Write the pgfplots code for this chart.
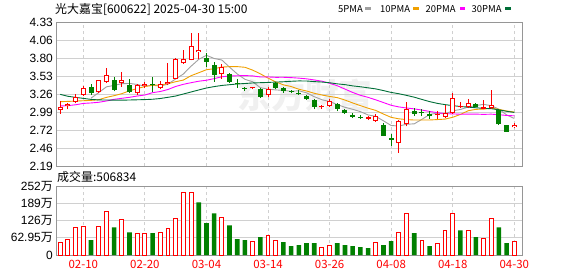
\documentclass[border=0pt]{standalone}
\usepackage{fontspec}
\setmainfont{Liberation Sans}
\newfontfamily\cjk{Noto Sans CJK SC}
\usepackage{pgfplots}
\pgfplotsset{compat=1.18}
\usepackage{pgfplotstable}

\definecolor{upred}{RGB}{255,0,0}
\definecolor{dngreen}{RGB}{0,128,0}
\definecolor{mafive}{RGB}{160,160,160}
\definecolor{maten}{RGB}{240,160,0}
\definecolor{matwenty}{RGB}{255,0,255}
\definecolor{mathirty}{RGB}{0,110,55}
\definecolor{gridc}{RGB}{208,208,208}
\definecolor{framec}{RGB}{150,150,150}

% candles: index open high low close
\pgfplotstableread{
i o h l c
0 3.02 3.16 2.97 3.06
1 3.08 3.13 3.03 3.11
2 3.145 3.26 3.12 3.21
3 3.25 3.38 3.23 3.345
5 3.285 3.47 3.27 3.465
6 3.44 3.64 3.42 3.54
8 3.42 3.58 3.37 3.47
10 3.27 3.41 3.25 3.39
11 3.38 3.44 3.345 3.41
13 3.35 3.45 3.33 3.405
14 3.41 3.72 3.39 3.44
15 3.49 3.79 3.48 3.775
16 3.715 3.91 3.71 3.775
17 3.77 4.17 3.76 3.97
18 3.88 4.17 3.78 3.915
21 3.55 3.70 3.49 3.66
25 3.345 3.37 3.33 3.36
27 3.245 3.37 3.21 3.33
34 3.06 3.10 3.04 3.075
35 3.08 3.18 3.07 3.155
40 2.895 2.93 2.87 2.91
41 2.86 2.97 2.85 2.93
44 2.53 2.875 2.39 2.86
45 2.81 3.14 2.78 3.04
49 2.945 3.00 2.89 2.96
50 2.92 3.10 2.90 2.98
51 2.975 3.27 2.96 3.195
52 3.06 3.14 3.05 3.075
53 3.06 3.19 3.05 3.12
56 3.05 3.32 3.04 3.10
59 2.765 2.825 2.75 2.80
}\upk

\pgfplotstableread{
i o h l c
55 3.04 3.17 3.03 3.07
}\upfk

\pgfplotstableread{
i o h l c
4 3.37 3.41 3.245 3.27
7 3.47 3.51 3.30 3.32
9 3.39 3.49 3.27 3.29
12 3.405 3.51 3.295 3.39
19 3.80 3.865 3.665 3.74
20 3.69 3.74 3.44 3.54
22 3.555 3.57 3.43 3.44
23 3.43 3.48 3.35 3.41
24 3.355 3.37 3.31 3.34
26 3.33 3.345 3.20 3.22
28 3.42 3.44 3.33 3.355
29 3.355 3.37 3.28 3.305
30 3.305 3.32 3.27 3.29
31 3.28 3.32 3.245 3.26
32 3.235 3.25 3.17 3.18
33 3.17 3.19 3.03 3.07
36 3.105 3.13 3.00 3.035
37 3.02 3.04 2.96 2.975
38 2.955 2.98 2.90 2.925
39 2.925 2.95 2.89 2.90
42 2.80 2.825 2.635 2.64
43 2.60 2.66 2.49 2.58
46 3.005 3.05 2.94 2.965
47 2.99 3.03 2.93 2.975
48 2.96 3.00 2.89 2.94
54 3.11 3.12 3.06 3.07
57 3.02 3.04 2.80 2.81
58 2.80 2.805 2.70 2.70
}\dnk

\pgfplotstableread{
i v
4 3.199
5 3.28
6 3.366
7 3.388
8 3.413
9 3.417
10 3.402
11 3.376
12 3.39
13 3.377
14 3.407
15 3.484
16 3.557
17 3.673
18 3.775
19 3.835
20 3.788
21 3.765
22 3.659
23 3.558
24 3.478
25 3.442
26 3.354
27 3.332
28 3.321
29 3.314
30 3.30
31 3.308
32 3.278
33 3.221
34 3.175
35 3.148
36 3.103
37 3.062
38 3.033
39 2.998
40 2.949
41 2.928
42 2.861
43 2.792
44 2.784
45 2.81
46 2.817
47 2.884
48 2.956
49 2.976
50 2.964
51 3.01
52 3.03
53 3.066
54 3.088
55 3.106
56 3.087
57 3.034
58 2.95
59 2.896
}\mafivet

\pgfplotstableread{
i v
0 3.146
1 3.15
2 3.155
3 3.16
4 3.165
5 3.175
6 3.21
7 3.235
8 3.265
9 3.308
10 3.341
11 3.371
12 3.389
13 3.395
14 3.412
15 3.443
16 3.467
17 3.532
18 3.576
19 3.621
20 3.636
21 3.661
22 3.666
23 3.667
24 3.657
25 3.615
26 3.560
27 3.496
28 3.440
29 3.396
30 3.371
31 3.331
32 3.305
33 3.271
34 3.245
35 3.224
36 3.206
37 3.170
38 3.127
39 3.087
40 3.049
41 3.016
42 2.962
43 2.913
44 2.891
45 2.880
46 2.873
47 2.873
48 2.874
49 2.880
50 2.887
51 2.914
52 2.957
53 3.011
54 3.032
55 3.035
56 3.049
57 3.032
58 3.008
59 2.992
}\matent

\pgfplotstableread{
i v
0 3.082
1 3.087
2 3.10
3 3.12
4 3.127
5 3.137
6 3.156
7 3.181
8 3.196
9 3.211
10 3.23
11 3.245
12 3.28
13 3.297
14 3.327
15 3.372
16 3.404
17 3.428
18 3.45
19 3.4645
20 3.4885
21 3.516
22 3.5275
23 3.531
24 3.534
25 3.529
26 3.513
27 3.5135
28 3.508
29 3.5085
30 3.5035
31 3.496
32 3.4855
33 3.469
34 3.4505
35 3.4195
36 3.3825
37 3.333
38 3.283
39 3.241
40 3.210
41 3.173
42 3.133
43 3.092
44 3.068
45 3.052
46 3.039
47 3.021
48 3.0005
49 2.983
50 2.968
51 2.9645
52 2.959
53 2.962
54 2.9615
55 2.957
56 2.9605
57 2.952
58 2.941
59 2.936
}\matwentyt

\pgfplotstableread{
i v
0 3.255
1 3.226
2 3.21
3 3.195
4 3.18
5 3.172
6 3.171
7 3.168
8 3.168
9 3.171
10 3.174
11 3.177
12 3.182
13 3.193
14 3.211
15 3.23
16 3.26
17 3.29
18 3.32
19 3.349
20 3.37
21 3.387
22 3.398
23 3.409
24 3.416
25 3.424
26 3.428
27 3.432
28 3.437
29 3.4417
30 3.4493
31 3.4543
32 3.4533
33 3.4442
34 3.4377
35 3.4273
36 3.4105
37 3.399
38 3.3808
39 3.3678
40 3.3518
41 3.3358
42 3.3108
43 3.2833
44 3.264
45 3.2395
46 3.2125
47 3.1793
48 3.1468
49 3.1208
50 3.1022
51 3.0867
52 3.0745
53 3.0648
54 3.0558
55 3.0462
56 3.0422
57 3.0248
58 3.003
59 2.9862
}\mathirtyt

% volume (10k shares)
\pgfplotstableread{
i v
0 47
1 56.7
2 100
3 104
5 104
6 158
8 129
10 80
11 80
13 83
14 96.5
15 133
16 227
17 230
21 136
25 50.6
27 71
28 53
34 28
35 35
41 47
44 83
45 152
47 53
49 43
50 89
51 152
53 89
55 60
56 133
59 50.68
}\volup

\pgfplotstableread{
i v
4 54
7 101
9 83
12 80
18 192
19 116
20 152
22 108.5
23 58
24 54
26 65
29 47
30 32.6
31 36
32 43
33 43
36 43
37 36
38 32.6
39 29
40 25
42 36
43 50.6
46 80
48 32.6
52 90
54 65
57 101
58 43
}\voldn

\pgfplotsset{
  kaxis/.style={
    scale only axis, width=466bp,
    xmin=-0.55, xmax=60,
    axis line style={draw=framec, line width=0.9bp},
    major tick length=0pt,
    xtick={3,11,19,27,35,43,51,59},
    xmajorgrids, ymajorgrids,
    x grid style={gridc, dash pattern=on 3bp off 3bp, line width=0.9bp},
    y grid style={gridc, line width=0.9bp},
    tick label style={font=\fontsize{12}{14}\selectfont, inner sep=0pt},
    yticklabel style={xshift=-3bp},
  },
  wick/.style={draw=none, mark=none, forget plot,
    error bars/.cd, y dir=plus, y explicit, error mark=none,
    error bar style={draw=#1, line width=1bp}},
  body/.style 2 args={draw=none, mark=none, forget plot,
    error bars/.cd, y dir=plus, y explicit, error mark=none,
    error bar style={draw=#1, line width=#2}},
}

\begin{document}
\begin{tikzpicture}
\path[use as bounding box] (0,0) rectangle (578bp,-276bp);

% watermark
\node[text=black!6, font=\cjk\bfseries\fontsize{34}{36}\selectfont] at (305bp,-95bp) {东方财富};

% title and legend
\node[anchor=west, inner sep=0pt] at (55bp,-9bp) {\cjk\fontsize{12}{14}\selectfont 光大嘉宝[600622] 2025-04-30 15:00};
\node[anchor=west, inner sep=0pt] at (338bp,-8.8bp) {\cjk\fontsize{9.5}{11}\selectfont 5PMA};
\fill[mafive] (365bp,-7.3bp) rectangle (371bp,-10.3bp);
\node[anchor=west, inner sep=0pt] at (380bp,-8.8bp) {\cjk\fontsize{9.5}{11}\selectfont 10PMA};
\fill[maten] (413bp,-7.3bp) rectangle (419bp,-10.3bp);
\node[anchor=west, inner sep=0pt] at (425.5bp,-8.8bp) {\cjk\fontsize{9.5}{11}\selectfont 20PMA};
\fill[matwenty] (459.5bp,-7.3bp) rectangle (465bp,-10.3bp);
\node[anchor=west, inner sep=0pt] at (471.5bp,-8.8bp) {\cjk\fontsize{9.5}{11}\selectfont 30PMA};
\fill[mathirty] (505bp,-7.3bp) rectangle (511bp,-10.3bp);

\node[anchor=west, inner sep=0pt] at (57bp,-177bp) {\cjk\fontsize{12}{14}\selectfont 成交量:506834};

% price axis
\begin{axis}[kaxis,
  at={(56bp,-166bp)}, anchor=south west, height=144bp,
  ymin=2.19, ymax=4.33,
  ytick={2.19,2.4575,2.725,2.9925,3.26,3.5275,3.795,4.0625,4.33},
  yticklabels={2.19,2.46,2.72,2.99,3.26,3.53,3.80,4.06,4.33},
  xticklabel=\empty,
]
\addplot[mafive, line width=0.9bp, mark=none] table[x=i,y=v] {\mafivet};
\addplot[maten, line width=0.9bp, mark=none] table[x=i,y=v] {\matent};
\addplot[matwenty, line width=0.9bp, mark=none] table[x=i,y=v] {\matwentyt};
\addplot[mathirty, line width=0.9bp, mark=none] table[x=i,y=v] {\mathirtyt};

% down candles
\addplot[wick=dngreen] table[x=i, y=l, y error expr=\thisrow{h}-\thisrow{l}] {\dnk};
\addplot[body={dngreen}{5bp}] table[x=i, y=c, y error expr={max(\thisrow{o}-\thisrow{c},0.016)}] {\dnk};
% up candles (hollow)
\addplot[wick=upred] table[x=i, y=l, y error expr=\thisrow{h}-\thisrow{l}] {\upk};
\addplot[body={upred}{5bp}] table[x=i, y=o, y error expr={max(\thisrow{c}-\thisrow{o},0.016)}] {\upk};
\addplot[body={white}{3bp}] table[x=i, y expr=\thisrow{o}+0.0149, y error expr={max(\thisrow{c}-\thisrow{o}-0.0298,0)}] {\upk};
% up candle (filled)
\addplot[wick=upred] table[x=i, y=l, y error expr=\thisrow{h}-\thisrow{l}] {\upfk};
\addplot[body={upred}{5bp}] table[x=i, y=o, y error expr={max(\thisrow{c}-\thisrow{o},0.016)}] {\upfk};
\end{axis}

% volume axis
\begin{axis}[kaxis,
  at={(56bp,-255bp)}, anchor=south west, height=69bp,
  ymin=0, ymax=252,
  ytick={0,63,126,189,252},
  yticklabels={0,{62.95{\cjk 万}},{126{\cjk 万}},{189{\cjk 万}},{252{\cjk 万}}},
  xticklabels={02-10,02-20,03-04,03-14,03-26,04-08,04-18,04-30},
  xticklabel style={text=upred, font=\cjk\fontsize{11.5}{13}\selectfont, yshift=-5bp},
]
\addplot[ybar, bar shift=0pt, bar width=3.9bp, draw=upred, fill=white, line width=1bp] table[x=i,y=v] {\volup};
\addplot[ybar, bar shift=0pt, bar width=4.6bp, draw=none, fill=dngreen] table[x=i,y=v] {\voldn};
\end{axis}
\end{tikzpicture}
\end{document}
